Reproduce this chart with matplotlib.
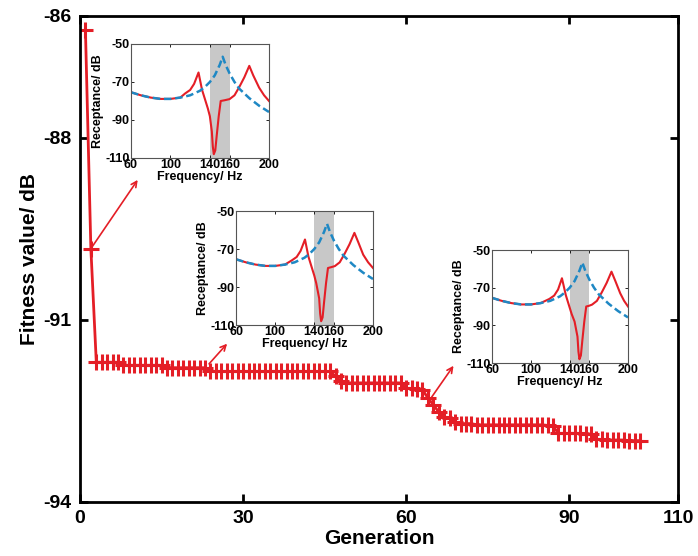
import numpy as np
import matplotlib
matplotlib.use("Agg")
import matplotlib.pyplot as plt

plt.rcParams['font.family'] = ['Liberation Sans', 'DejaVu Sans']
plt.rcParams['font.weight'] = 'bold'
plt.rcParams['axes.unicode_minus'] = False

# main convergence curve (generation vs fitness)
generations = list(range(1, 104))
fitness = [
    -86.23, -89.83,
    -91.70, -91.70, -91.70, -91.70, -91.70,
    -91.75, -91.75, -91.75, -91.75, -91.75, -91.75, -91.75, -91.75,
    -91.79, -91.79, -91.79, -91.79, -91.79, -91.79, -91.79, -91.79,
    -91.85, -91.85, -91.85, -91.85, -91.85, -91.85, -91.85, -91.85,
    -91.85, -91.85, -91.85, -91.85, -91.85, -91.85, -91.85, -91.85,
    -91.85, -91.85, -91.85, -91.85, -91.85, -91.85, -91.85,
    -91.93, -92.01,
    -92.04, -92.04, -92.04, -92.04, -92.04, -92.04, -92.04, -92.04,
    -92.04, -92.04, -92.04,
    -92.13, -92.13, -92.14, -92.15,
    -92.29, -92.40, -92.52, -92.60, -92.62, -92.68,
    -92.71, -92.71, -92.71,
    -92.73, -92.73, -92.73, -92.73, -92.73, -92.73, -92.73, -92.73,
    -92.73, -92.73, -92.73, -92.73, -92.73, -92.74, -92.75,
    -92.87, -92.87, -92.87, -92.87, -92.87, -92.88, -92.88,
    -92.97, -92.97, -92.98, -92.98, -92.98, -92.98, -92.99, -92.99, -92.99,
]

# receptance curves in the insets
freq_blue = [60, 70, 80, 90, 100, 110, 120, 130, 135, 140, 145, 150, 153,
             156, 160, 165, 170, 180, 190, 200]
rec_blue = [-75.4, -77.0, -78.2, -78.9, -78.9, -78.2, -77.0, -74.6, -72.6,
            -70.0, -66.5, -61.0, -56.7, -61.0, -65.5, -70.0, -73.6, -78.5,
            -82.5, -85.8]

rec_red = [-75.4, -77.0, -78.2, -78.9, -78.9, -78.2, -76.0, -74.2, -71.0,
           -65.0, -74.0, -79.0, -84.0, -88.0, -96.0, -104.0, -108.0, -106.0,
           -98.0, -88.0, -80.0, -79.6, -79.0, -77.0, -72.5, -67.5, -61.5,
           -66.5, -73.0, -77.0, -80.0]
freq_red_1 = [60, 70, 80, 90, 100, 110, 115, 120, 124, 128.5, 132, 135, 138,
              140, 142, 143, 144, 145.5, 147, 149, 151, 155, 160, 165, 170,
              175, 180, 184, 190, 195, 200]
freq_red_2 = [60, 70, 80, 90, 100, 110, 117, 122, 126, 130.5, 134, 137, 140,
              142, 145, 146, 147, 148.5, 150, 152, 154, 157, 161, 166, 171,
              176, 181, 185, 190, 195, 200]
freq_red_3 = [60, 70, 80, 90, 100, 110, 119, 124, 128, 132, 136, 139, 142,
              145, 148, 149, 150, 151.5, 153, 155, 157, 160, 163, 168, 173,
              178, 183, 187, 192, 196, 200]

red = '#e41e26'
blue = '#1f88c4'

fig = plt.figure(figsize=(6.98, 5.56), dpi=100)
ax = fig.add_axes([80 / 698, 1 - 502 / 556, 598 / 698, 486 / 556])
ax.plot(generations, fitness, color=red, lw=2, marker='+', ms=11, mew=2.2)
ax.set_xlim(0, 110)
ax.set_ylim(-94, -86)
ax.set_xticks([0, 30, 60, 90, 110])
ax.set_yticks([-86, -88, -91, -94])
ax.tick_params(direction='in', length=6, width=2, labelsize=14,
               top=True, right=True, pad=6)
for s in ax.spines.values():
    s.set_linewidth(2)
ax.set_xlabel('Generation', fontsize=15, fontweight='bold', labelpad=1)
ax.set_ylabel('Fitness value/ dB', fontsize=15, fontweight='bold', labelpad=3)

# arrows from the curve to the insets
arrow = dict(arrowstyle='->', color=red, lw=1.2)
ax.annotate('', xy=(10.9, -88.66), xytext=(2, -89.83), arrowprops=arrow)
ax.annotate('', xy=(27.4, -91.36), xytext=(23.4, -91.76), arrowprops=arrow)
ax.annotate('', xy=(69.0, -91.72), xytext=(64.4, -92.31), arrowprops=arrow)

insets = [
    ([131 / 698, 1 - 158 / 556, 138 / 698, 114 / 556], freq_red_1),
    ([236 / 698, 1 - 325 / 556, 137 / 698, 114 / 556], freq_red_2),
    ([492 / 698, 1 - 363 / 556, 136 / 698, 113 / 556], freq_red_3),
]
for rect, fr in insets:
    ins = fig.add_axes(rect)
    ins.axvspan(140, 160, color='#c8c8c8', lw=0)
    ins.plot(fr, rec_red, color=red, lw=1.5)
    ins.plot(freq_blue, rec_blue, color=blue, lw=1.8, ls=(0, (3, 1.5)))
    ins.set_xlim(60, 200)
    ins.set_ylim(-110, -50)
    ins.set_xticks([60, 100, 140, 160, 200])
    ins.set_yticks([-50, -70, -90, -110])
    ins.tick_params(direction='in', length=2, width=0.6, labelsize=9,
                    top=True, right=True, pad=1)
    for s in ins.spines.values():
        s.set_linewidth(0.8)
        s.set_color('#555555')
    ins.set_xlabel('Frequency/ Hz', fontsize=9, fontweight='bold', labelpad=0)
    ins.set_ylabel('Receptance/ dB', fontsize=9, fontweight='bold', labelpad=1)

fig.savefig('out.png', dpi=100)
